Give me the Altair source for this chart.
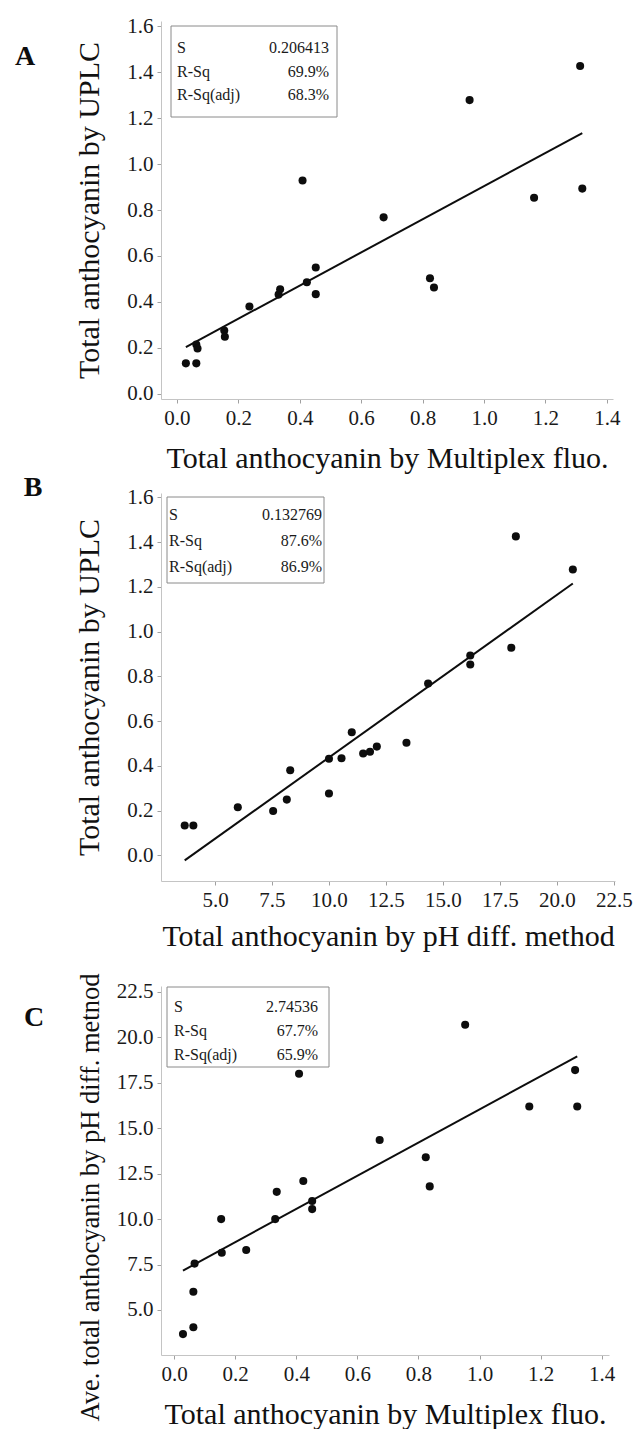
import altair as alt
import pandas as pd

# ---- data (20 samples) ----
multiplex = [0.029, 0.063, 0.063, 0.067, 0.154, 0.156, 0.236, 0.331, 0.336, 0.423,
             0.409, 0.452, 0.452, 0.673, 0.824, 0.837, 0.953, 1.163, 1.313, 1.320]
uplc = [0.133, 0.133, 0.215, 0.198, 0.276, 0.249, 0.380, 0.432, 0.455, 0.486,
        0.928, 0.550, 0.434, 0.768, 0.503, 0.463, 1.278, 0.853, 1.426, 0.893]
ph_diff = [3.67, 4.05, 6.00, 7.55, 10.00, 8.15, 8.30, 10.00, 11.50, 12.10,
           18.00, 11.00, 10.55, 14.35, 13.40, 11.80, 20.70, 16.20, 18.20, 16.20]

stat_names = ["S", "R-Sq", "R-Sq(adj)"]
stats_a = ["0.206413", "69.9%", "68.3%"]
stats_b = ["0.132769", "87.6%", "86.9%"]
stats_c = ["2.74536", "67.7%", "65.9%"]

ticks_frac = [0.0, 0.2, 0.4, 0.6, 0.8, 1.0, 1.2, 1.4]
ticks_uplc = [0.0, 0.2, 0.4, 0.6, 0.8, 1.0, 1.2, 1.4, 1.6]
ticks_ph = [5.0, 7.5, 10.0, 12.5, 15.0, 17.5, 20.0, 22.5]

df = pd.DataFrame({"m": multiplex, "u": uplc, "p": ph_diff})
one = pd.DataFrame({"k": [0]})

FONT = "Liberation Serif"


def axis(ticks, title_pad, title_size=30, title_y=None):
    kw = dict(values=ticks, format=".1f", grid=False,
              domainColor="#c4c4c4", tickColor="#a0a0a0", tickSize=4,
              labelFont=FONT, labelFontSize=21, labelColor="#1a1a1a", labelPadding=4,
              titleFont=FONT, titleFontSize=title_size, titleFontWeight="normal",
              titleColor="#111111", titlePadding=title_pad)
    if title_y is not None:
        kw["titleY"] = title_y
    return alt.Axis(**kw)


def panel(xf, yf, xdom, ydom, xticks, yticks, xtitle, ytitle, w, h,
          xpad, ypad, letter, lpos, box, rows, right_x, left_x, stats,
          ytitle_size=30, ytitle_y=None, top_guard=None):
    base = alt.Chart(df)
    pts = base.mark_circle(size=65, color="#0d0d0d", opacity=1).encode(
        x=alt.X(f"{xf}:Q", scale=alt.Scale(domain=xdom, nice=False, zero=False),
                axis=axis(xticks, xpad), title=xtitle),
        y=alt.Y(f"{yf}:Q", scale=alt.Scale(domain=ydom, nice=False, zero=False),
                axis=axis(yticks, ypad, ytitle_size, ytitle_y), title=ytitle),
    )
    fit = base.transform_regression(xf, yf).mark_line(color="#0d0d0d", strokeWidth=2).encode(
        x=f"{xf}:Q", y=f"{yf}:Q")
    rect = alt.Chart(one).mark_rect(fill="white", stroke="#8a8a8a", strokeWidth=1).encode(
        x=alt.value(box[0]), x2=alt.value(box[1]), y=alt.value(box[2]), y2=alt.value(box[3]))
    left_txt = alt.Chart(one).mark_text(
        text=stat_names, align="left", baseline="middle", lineHeight=rows[1],
        font=FONT, fontSize=16, color="#1a1a1a").encode(
        x=alt.value(left_x), y=alt.value(rows[0]))
    right_txt = alt.Chart(one).mark_text(
        text=stats, align="right", baseline="middle", lineHeight=rows[1],
        font=FONT, fontSize=16, color="#1a1a1a").encode(
        x=alt.value(right_x), y=alt.value(rows[0]))
    lab = alt.Chart(one).mark_text(
        text=letter, align="center", baseline="middle", font=FONT, fontSize=28,
        fontWeight="bold", color="#0d0d0d").encode(
        x=alt.value(lpos[0]), y=alt.value(lpos[1]))
    layers = [fit, pts, rect, left_txt, right_txt, lab]
    if top_guard is not None:
        guard = alt.Chart(one).mark_rule(opacity=0).encode(
            x=alt.value(0), x2=alt.value(2), y=alt.value(top_guard))
        layers.append(guard)
    return alt.layer(*layers).properties(width=w, height=h)


pa = panel("m", "u", [-0.052, 1.42], [-0.022, 1.622], ticks_frac, ticks_uplc,
           "Total anthocyanin by Multiplex fluo.", "Total anthocyanin by UPLC",
           452, 378, 15, 22, "A", (-136, 36), (10, 176, 5, 96), (27, 23.5), 168, 16, stats_a)
pb = panel("p", "u", [2.63, 22.55], [-0.115, 1.62], ticks_ph, ticks_uplc,
           "Total anthocyanin by pH diff. method", "Total anthocyanin by UPLC",
           454, 388, 11, 22, "B", (-128, -5), (6, 163, 4, 90), (22, 26), 161, 8, stats_b)
pc = panel("m", "p", [-0.043, 1.424], [2.52, 22.83], ticks_frac, ticks_ph,
           "Total anthocyanin by Multiplex fluo.", "Ave. total anthocyanin by pH diff. metnod",
           448, 369, 15, 12, "C", (-127, 32), (6, 168, 1, 81), (21, 24), 157, 13, stats_c,
           ytitle_size=26.5, ytitle_y=211, top_guard=-34)

chart = alt.vconcat(pa, pb, pc, spacing=1).properties(
    padding={"left": 14, "top": 15, "right": 0, "bottom": 0},
    background="white",
).configure_view(stroke=None)

chart.save("out.html", embed_options={"renderer": "svg", "actions": False})
